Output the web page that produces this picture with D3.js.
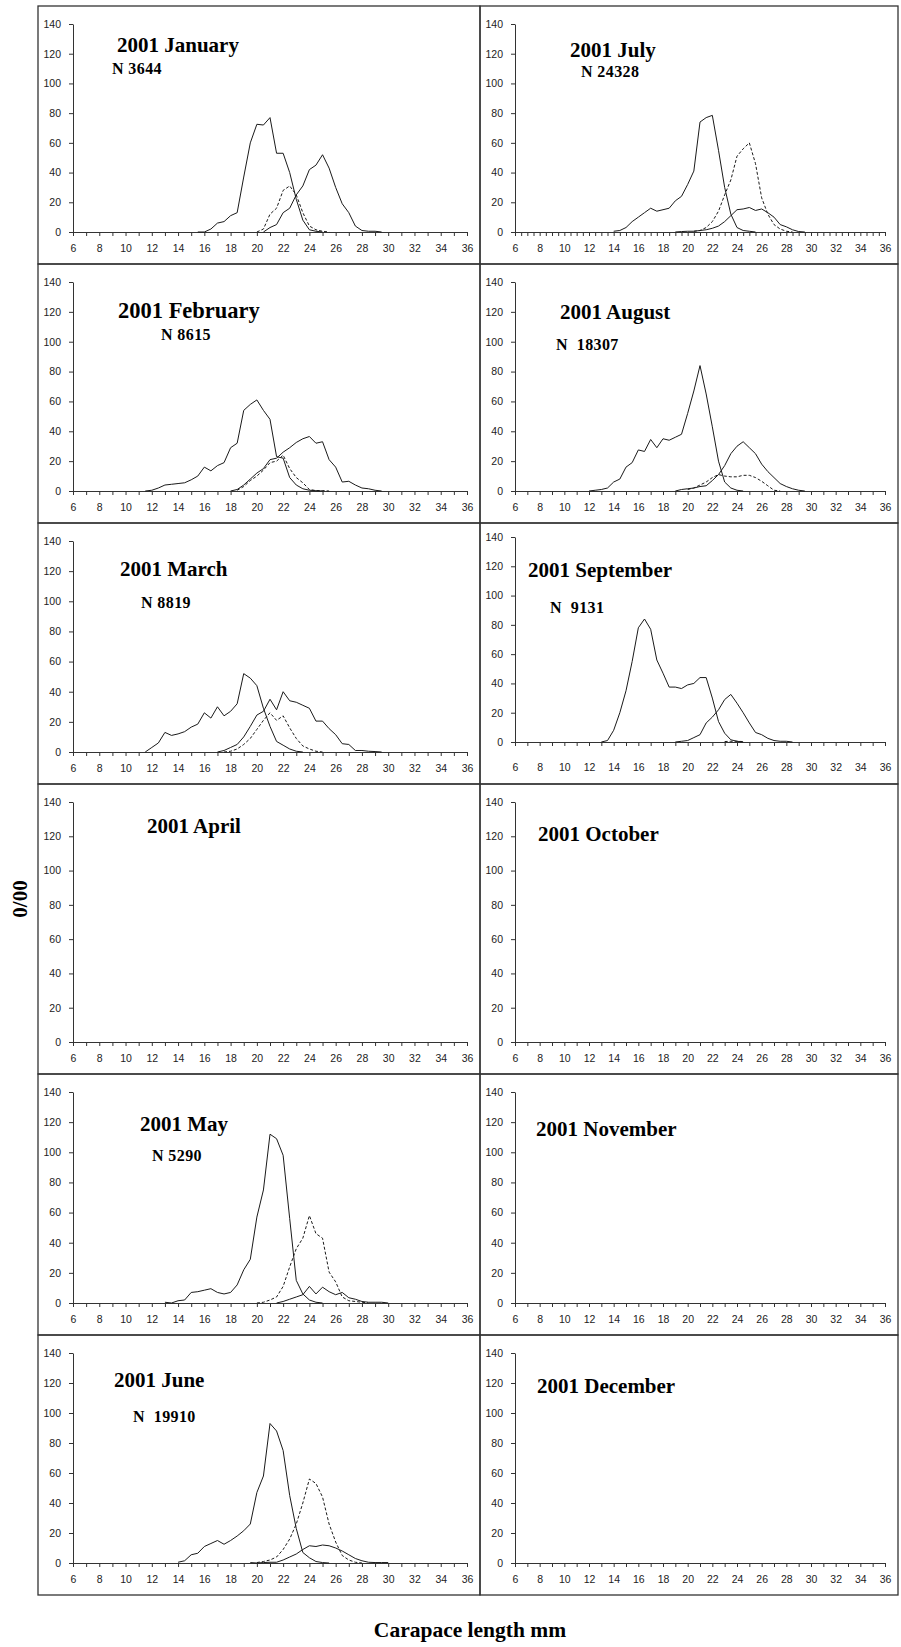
<!DOCTYPE html>
<html>
<head>
<meta charset="utf-8">
<script src="https://cdn.jsdelivr.net/npm/d3@7"></script>
<style>
  body { margin: 0; background: #fff; }
  svg text { white-space: pre; }
</style>
</head>
<body>
<div id="chart"></div>
<script>
// Carapace length classes (mm), 0.5 mm steps
var sizeClasses = [6, 6.5, 7, 7.5, 8, 8.5, 9, 9.5, 10, 10.5, 11, 11.5, 12, 12.5, 13, 13.5,
    14, 14.5, 15, 15.5, 16, 16.5, 17, 17.5, 18, 18.5, 19, 19.5, 20, 20.5, 21, 21.5,
    22, 22.5, 23, 23.5, 24, 24.5, 25, 25.5, 26, 26.5, 27, 27.5, 28, 28.5, 29, 29.5,
    30, 30.5, 31, 31.5, 32, 32.5, 33, 33.5, 34, 34.5, 35, 35.5, 36];

var yTicks = [0, 20, 40, 60, 80, 100, 120, 140];

var months = ['2001 January', '2001 February', '2001 March', '2001 April', '2001 May', '2001 June',
    '2001 July', '2001 August', '2001 September', '2001 October', '2001 November', '2001 December'];
var sampleSizes = ['N 3644', 'N 8615', 'N 8819', '', 'N 5290', 'N  19910',
    'N 24328', 'N  18307', 'N  9131', '', '', ''];

// first size class of each curve: [cohort I, cohort II, dashed]
var janStarts = [15.5, 20.5, 20];
var janI = [0, 0, 2, 6, 7, 11, 13, 37, 60, 72.5, 72, 77, 53, 53, 40, 22, 8, 1.5, 0.5, 0];
var janII = [0, 3, 5, 13, 16, 25, 31, 42, 45, 52, 43, 30, 19, 13, 4, 1, 0.5, 0.5, 0];
var janDash = [0, 2, 12, 16, 28, 31, 25, 13, 4, 1.5, 0.5, 0];

var febStarts = [11.5, 18, 18.5];
var febI = [0, 0.5, 2, 4, 4.5, 5, 5.5, 7.5, 10, 16, 13.5, 17, 19, 29, 32, 54, 58, 61, 54, 48, 23, 22, 9, 4, 1.5, 0.5, 0.2, 0];
var febII = [0, 1, 4, 8, 12, 15, 21, 22, 26, 29, 32.5, 35, 36.5, 32, 33, 21, 16, 6, 6.5, 4, 2, 1.5, 0.5, 0];
var febDash = [0.5, 3, 7, 10, 14, 19, 20, 24, 15, 9, 5.5, 1, 0.3, 0.3, 0];

var marStarts = [11.5, 17, 17.5];
var marI = [0, 3, 6, 13, 11, 12, 13.5, 16.5, 18.5, 26, 22.5, 30, 24, 27, 32, 52, 49, 44, 29, 17, 7, 4.5, 2, 0.5, 0];
var marII = [0, 1, 3, 5, 10, 17, 24.5, 27, 35, 28, 40, 34, 33, 31, 29, 20.5, 20.5, 15.5, 11.5, 5.5, 5, 1, 1, 0.5, 0.3, 0];
var marDash = [0, 0.5, 2, 5, 9, 15, 21, 26, 21, 24, 16, 9, 4, 2, 0.5, 0];

var mayStarts = [13, 21.5, 20];
var mayI = [0.5, 0, 1.5, 2, 7, 7.5, 8.5, 9.5, 7, 6, 7, 12, 22, 29, 57, 75, 112, 109, 98, 56, 15, 6, 2, 0.5, 0];
var mayII = [0, 1, 2.5, 4, 5.5, 11, 6, 10.5, 7.5, 5.5, 7, 3.5, 2.5, 1, 0.5, 0.5, 0.5, 0];
var mayDash = [0, 0.5, 2, 4, 11, 24, 36, 43, 58, 46, 43, 20.5, 14, 4, 1.5, 1, 0.5, 0];

var junStarts = [14, 19.5, 20];
var junI = [0.5, 1.5, 5.5, 6.5, 11, 13, 15, 12.5, 15, 18, 21.5, 26, 47, 58, 93, 88, 75, 45, 23, 7, 3.5, 1, 0.3, 0];
var junII = [0.3, 0, 0.3, 0.5, 0.5, 2, 4, 6, 9, 11.5, 11, 12, 11.5, 10, 8, 5.5, 3, 1.5, 0.5, 0.3, 0.3, 0.3];
var junDash = [0.3, 1, 2, 4, 9, 16, 26, 40, 56, 53, 44, 26, 14, 5, 2, 0.5, 0];

var julStarts = [14, 19, 20.5];
var julI = [0.5, 1, 3, 7, 10, 13, 16, 14, 15, 16, 21, 24, 32, 41, 74, 77, 78.5, 55, 30, 12, 3, 1, 0.5, 0];
var julII = [0, 0.3, 0.5, 0.5, 1, 1.5, 2.5, 4, 7, 11, 15, 15.5, 16.5, 14.5, 15.5, 13, 10, 5, 3.5, 1.5, 0.3, 0];
var julDash = [0.5, 1, 3, 7, 14, 25, 35, 51, 56, 60, 46, 23, 12, 5, 2, 0.5, 0];

var augStarts = [12, 19, 20];
var augI = [0, 0.5, 1, 2, 6, 8, 16, 19, 27.5, 26.5, 34.5, 29, 35, 34, 36, 38, 52, 67, 84, 65, 43, 20, 6, 2, 0.5, 0];
var augII = [0, 1, 1.5, 2, 3, 3.5, 7, 11, 17, 25, 30, 33, 29, 25, 18, 13, 9, 5, 3, 1.5, 0.5, 0];
var augDash = [1, 2, 4, 6, 9, 11, 10, 9.5, 9.5, 10.5, 10.5, 9, 6.5, 3.5, 0.5, 0];

var sepStarts = [13, 19, 23];
var sepI = [0, 1, 8, 20, 35, 55, 78, 84, 77, 56, 47, 37.5, 37.5, 36.5, 39, 40, 44, 44, 30, 14, 6, 1.5, 0.5, 0];
var sepII = [0, 0.5, 1, 3, 5, 13, 17, 22, 29, 32.5, 26.5, 20, 13, 6.5, 5, 2.5, 1, 0.5, 0.5, 0];
var sepDash = [0.3, 0.5, 0.5, 0.3];

// table of curves per panel (April, October, November, December are empty)
var panelCurves = [
    [[janStarts, janI, janII, janDash]],
    [[febStarts, febI, febII, febDash]],
    [[marStarts, marI, marII, marDash]],
    [],
    [[mayStarts, mayI, mayII, mayDash]],
    [[junStarts, junI, junII, junDash]],
    [[julStarts, julI, julII, julDash]],
    [[augStarts, augI, augII, augDash]],
    [[sepStarts, sepI, sepII, sepDash]],
    [], [], []
];

// ---- layout (pixels) ----
var W = 901, H = 1647;
var rowEdges = [6, 264, 523, 784, 1074, 1335, 1595];
var colEdges = [38, 480, 898];
var titleOffsets = [[79, 46], [80, 54], [82, 53], [109, 49], [102, 57], [76, 52],
    [90, 51], [80, 55], [48, 54], [58, 57], [56, 62], [57, 58]];
var nOffsets = [[74, 68], [123, 76], [103, 85], null, [114, 87], [95, 87],
    [101, 71], [76, 86], [70, 90], null, null, null];

var svg = d3.select('#chart').append('svg')
    .attr('width', W)
    .attr('height', H)
    .style('background', '#fff');

function toPoints(start, values) {
    var i0 = sizeClasses.indexOf(start);
    return values.map(function (v, i) { return [sizeClasses[i0 + i], v]; });
}

for (var p = 0; p < 12; p++) {
    drawPanel(p);
}

function drawPanel(p) {
    var col = p < 6 ? 0 : 1;
    var row = p % 6;
    var fx0 = colEdges[col], fx1 = colEdges[col + 1];
    var fy0 = rowEdges[row], fy1 = rowEdges[row + 1];

    var g = svg.append('g');

    // panel frame
    g.append('rect')
        .attr('x', fx0).attr('y', fy0)
        .attr('width', fx1 - fx0).attr('height', fy1 - fy0)
        .attr('fill', 'none')
        .attr('stroke', '#333')
        .attr('stroke-width', 1.3);

    var top = fy0 + 18, bottom = fy1 - 32, labelPad = 9;
    if (p === 8) { top = fy0 + 14; bottom = fy1 - 42; labelPad = 18; }

    var x = d3.scaleLinear().domain([6, 36]).range([fx0 + 35, fx1 - 13]);
    var y = d3.scaleLinear().domain([0, 140]).range([bottom, top]);

    var tickStep = (p === 6) ? 0.5 : 1;
    var xAxis = d3.axisBottom(x)
        .tickValues(d3.range(6, 36 + tickStep / 2, tickStep))
        .tickFormat(function (d) { return (d % 2 === 0) ? d : ''; })
        .tickSize(4)
        .tickSizeOuter(0)
        .tickPadding(labelPad);

    var yAxis = d3.axisLeft(y)
        .tickValues(yTicks)
        .tickSize(4)
        .tickSizeOuter(0)
        .tickPadding(8);

    var gx = g.append('g')
        .attr('transform', 'translate(0,' + y(0) + ')')
        .call(xAxis);
    var gy = g.append('g')
        .attr('transform', 'translate(' + x(6) + ',0)')
        .call(yAxis);

    [gx, gy].forEach(function (a) {
        a.select('.domain').attr('stroke', '#333');
        a.selectAll('.tick line').attr('stroke', '#333');
        a.selectAll('.tick text')
            .attr('fill', '#222')
            .style('font-family', '"Liberation Sans", Arial, sans-serif')
            .style('font-size', '10.5px');
    });

    // curves
    var line = d3.line()
        .x(function (d) { return x(d[0]); })
        .y(function (d) { return y(d[1]); });

    panelCurves[p].forEach(function (set) {
        var starts = set[0];
        for (var k = 0; k < 3; k++) {
            g.append('path')
                .datum(toPoints(starts[k], set[k + 1]))
                .attr('d', line)
                .attr('fill', 'none')
                .attr('stroke', '#1a1a1a')
                .attr('stroke-width', 1)
                .attr('stroke-dasharray', k === 2 ? '3,2' : null);
        }
    });

    // titles
    g.append('text')
        .attr('x', fx0 + titleOffsets[p][0])
        .attr('y', fy0 + titleOffsets[p][1])
        .style('font-family', '"Liberation Serif", "Times New Roman", serif')
        .style('font-weight', 'bold')
        .style('font-size', p === 1 ? '22.5px' : '21px')
        .text(months[p]);

    if (nOffsets[p]) {
        g.append('text')
            .attr('x', fx0 + nOffsets[p][0])
            .attr('y', fy0 + nOffsets[p][1])
            .style('font-family', '"Liberation Serif", "Times New Roman", serif')
            .style('font-weight', 'bold')
            .style('font-size', '16px')
            .style('letter-spacing', '0.4px')
            .text(sampleSizes[p]);
    }
}

// shared axis titles
svg.append('text')
    .attr('transform', 'translate(27,899) rotate(-90)')
    .attr('text-anchor', 'middle')
    .style('font-family', '"Liberation Serif", "Times New Roman", serif')
    .style('font-weight', 'bold')
    .style('font-size', '21px')
    .text('0/00');

svg.append('text')
    .attr('x', 470)
    .attr('y', 1637)
    .attr('text-anchor', 'middle')
    .style('font-family', '"Liberation Serif", "Times New Roman", serif')
    .style('font-weight', 'bold')
    .style('font-size', '21.5px')
    .text('Carapace length mm');
</script>
</body>
</html>
